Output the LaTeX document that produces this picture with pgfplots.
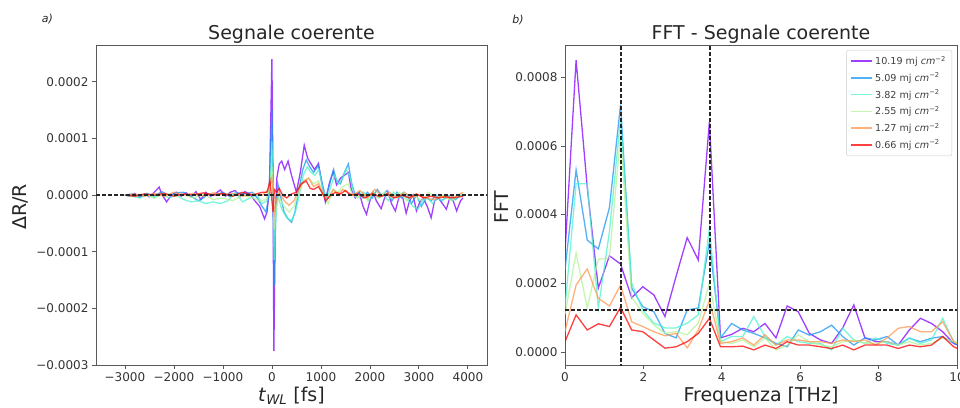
\documentclass[border=0pt]{standalone}
\usepackage{fontspec}
\setmainfont{DejaVu Sans}
\usepackage{pgfplots}
\pgfplotsset{compat=1.18}
\usepackage{pgfplotstable}

\definecolor{cP}{rgb}{0.5,0,1}
\definecolor{cB}{rgb}{0.1,0.588,0.951}
\definecolor{cC}{rgb}{0.3,0.951,0.809}
\definecolor{cG}{rgb}{0.7,0.951,0.588}
\definecolor{cO}{rgb}{1,0.588,0.309}
\definecolor{cR}{rgb}{1,0,0}

% FFT data (values in units of 1e-4)
\pgfplotstableread{
f P B C G O R
0.000 2.9 2.4 1.3 1.1 0.6 0.3
0.283 8.5 5.3 4.9 2.88 1.95 1.08
0.567 4.8 3.26 4.9 1.28 2.42 0.64
0.850 1.86 3.0 1.28 2.7 1.56 0.82
1.133 2.8 4.2 3.5 2.74 1.34 0.74
1.417 2.56 7.2 6.8 6.3 1.95 1.30
1.700 1.58 1.86 2.0 1.6 0.88 0.64
1.983 1.9 1.32 1.22 1.13 0.74 0.59
2.267 1.66 1.17 0.84 0.79 0.59 0.35
2.550 1.03 0.54 0.7 0.54 0.47 0.11
2.833 2.2 0.41 0.7 0.59 0.54 0.15
3.117 3.33 1.22 0.84 0.5 0.12 0.30
3.400 2.68 1.28 1.08 0.84 0.64 0.54
3.683 6.7 3.2 3.6 2.0 1.5 0.98
3.967 0.41 0.41 0.3 0.3 0.25 0.15
4.250 0.51 0.83 0.45 0.25 0.3 0.15
4.533 0.69 0.64 0.45 0.35 0.41 0.17
4.817 0.59 0.54 1.03 0.15 0.2 0.06
5.100 0.83 0.41 0.45 0.41 0.5 0.2
5.383 0.41 0.25 0.2 0.06 0.2 0.1
5.667 1.34 0.15 0.45 0.2 0.35 0.3
5.950 1.17 0.64 0.3 0.5 0.35 0.2
6.233 0.54 0.49 0.25 0.3 0.3 0.2
6.517 0.35 0.59 0.25 0.2 0.3 0.15
6.800 0.25 0.78 0.06 0.15 0.25 0.1
7.083 0.7 0.45 0.69 0.3 0.35 0.2
7.367 1.37 0.2 0.35 0.35 0.3 0.06
7.650 0.41 0.41 0.25 0.25 0.35 0.2
7.933 0.3 0.35 0.41 0.25 0.2 0.2
8.217 0.3 0.45 0.25 0.3 0.41 0.2
8.500 0.2 0.2 0.2 0.2 0.69 0.1
8.783 0.64 0.4 0.41 0.3 0.74 0.2
9.067 0.98 0.3 0.25 0.2 0.59 0.15
9.350 0.83 0.4 0.35 0.25 0.59 0.2
9.633 0.59 0.45 0.98 0.41 0.88 0.45
9.917 0.25 0.25 0.3 0.3 0.3 0.15
10.200 0.1 0.15 0.2 0.2 0.1 0.0
}\fftdata

% time-domain data (values in units of 1e-4)
\pgfplotstableread{
t v
-3000 0.0
-2900 -0.02
-2800 0.03
-2700 -0.04
-2600 0.02
-2500 -0.03
-2400 0.05
-2300 0.14
-2250 0.02
-2150 -0.12
-2050 0.0
-1950 0.05
-1850 -0.02
-1750 0.04
-1650 -0.03
-1550 0.06
-1450 -0.08
-1350 0.05
-1250 -0.02
-1150 0.03
-1050 0.09
-950 -0.02
-850 0.05
-750 0.08
-650 -0.03
-550 0.06
-450 0.02
-350 -0.1
-250 -0.2
-150 -0.42
-100 -0.3
-50 0.1
0 2.4
20 0.5
40 -2.75
70 -0.4
100 0.3
150 0.55
200 0.6
260 0.45
330 0.6
400 0.35
500 0.05
580 0.4
660 0.88
730 0.65
800 0.55
870 0.45
950 0.56
1020 0.2
1090 -0.12
1170 0.2
1250 0.42
1320 0.18
1400 0.3
1480 0.35
1560 0.4
1620 0.1
1700 -0.05
1780 0.05
1860 -0.2
1930 -0.34
2000 -0.1
2070 0.05
2130 -0.1
2230 -0.24
2300 -0.05
2370 0.05
2440 -0.15
2520 -0.28
2590 -0.05
2660 0.0
2740 -0.32
2810 -0.1
2880 0.0
2950 -0.28
3020 -0.12
3090 -0.05
3170 -0.2
3250 -0.4
3320 -0.1
3400 -0.05
3480 -0.15
3560 -0.25
3630 -0.05
3700 -0.1
3770 -0.28
3850 -0.1
3900 -0.05
}\tP

\pgfplotstableread{
t v
-3000 0
-2850 0.02
-2700 -0.03
-2550 0.03
-2400 -0.02
-2250 0.06
-2100 0.0
-1950 0.04
-1800 0.05
-1650 -0.02
-1500 -0.1
-1400 -0.05
-1300 0.02
-1150 0.0
-1000 0.05
-850 -0.03
-700 0.04
-550 0.02
-400 0.05
-300 -0.05
-200 -0.2
-120 -0.3
-60 0.0
0 1.5
25 0.0
45 -1.6
80 -0.3
120 0.2
170 0.0
250 -0.3
330 -0.42
400 -0.48
470 -0.3
550 0.1
630 0.45
700 0.62
770 0.5
850 0.4
950 0.52
1030 0.2
1100 -0.05
1180 0.2
1260 0.45
1320 0.25
1400 0.2
1480 0.4
1560 0.55
1630 0.2
1700 0.0
1780 0.05
1860 -0.05
1950 0.05
2050 -0.05
2150 0.1
2250 -0.02
2350 0.08
2450 -0.1
2550 0.05
2650 -0.05
2750 0.02
2850 -0.15
2950 0.0
3050 -0.2
3150 -0.05
3250 -0.1
3350 0.0
3450 -0.1
3550 -0.05
3650 0.0
3750 -0.08
3850 0.0
3900 -0.02
}\tB

\pgfplotstableread{
t v
-3000 0
-2850 -0.02
-2700 -0.05
-2550 0.0
-2400 -0.05
-2250 0.02
-2100 -0.05
-1950 0.0
-1800 -0.08
-1650 -0.12
-1500 -0.1
-1350 -0.15
-1200 -0.12
-1050 -0.15
-900 -0.1
-750 0.05
-600 -0.12
-450 -0.05
-300 0.0
-200 -0.15
-100 -0.1
-30 0.2
0 0.95
25 0.0
45 -1.15
80 -0.4
120 0.0
200 -0.25
300 -0.4
400 -0.45
480 -0.3
560 0.0
640 0.35
720 0.5
800 0.4
880 0.35
960 0.45
1040 0.1
1120 -0.1
1200 0.15
1280 0.35
1360 0.2
1440 0.3
1520 0.45
1600 0.3
1680 0.0
1780 -0.05
1880 0.05
1980 -0.1
2080 0.05
2180 -0.05
2280 0.0
2380 -0.1
2480 0.05
2580 -0.05
2680 0.05
2780 -0.1
2880 -0.2
2980 -0.25
3080 -0.1
3180 -0.05
3280 -0.15
3380 -0.05
3480 -0.1
3580 0.0
3680 -0.1
3780 -0.05
3900 0.0
}\tC

\pgfplotstableread{
t v
-3000 0
-2800 -0.03
-2600 0.02
-2400 -0.05
-2200 0.03
-2000 -0.02
-1800 0.0
-1600 -0.05
-1400 0.02
-1200 -0.08
-1000 -0.05
-800 -0.1
-600 0.0
-400 -0.05
-250 -0.1
-120 -0.08
-40 0.15
0 0.5
25 0.0
45 -0.6
90 -0.2
150 -0.05
250 -0.2
350 -0.3
450 -0.2
550 0.05
650 0.25
750 0.3
850 0.2
950 0.25
1050 0.0
1150 -0.15
1250 0.1
1350 0.05
1450 0.15
1550 0.2
1650 0.0
1750 -0.05
1850 0.05
1950 -0.1
2050 0.05
2150 -0.05
2300 0.05
2450 -0.05
2600 0.05
2750 -0.1
2900 0.0
3050 -0.1
3200 0.05
3350 -0.05
3500 0.0
3650 -0.1
3800 0.0
3900 0.02
}\tG

\pgfplotstableread{
t v
-3000 0
-2800 0.02
-2600 -0.02
-2400 0.03
-2200 -0.02
-2000 0.05
-1800 0.0
-1600 0.03
-1400 -0.02
-1200 0.04
-1000 0.0
-800 0.03
-600 -0.02
-400 0.02
-200 0.0
-60 0.1
0 0.3
25 0.0
45 -0.35
90 -0.1
150 0.05
250 -0.1
350 -0.18
450 -0.1
550 0.1
650 0.25
750 0.3
850 0.15
950 0.2
1050 0.0
1150 -0.05
1250 0.1
1350 0.0
1450 0.1
1550 0.05
1650 0.0
1800 0.08
1950 -0.05
2100 0.1
2250 -0.02
2400 0.05
2550 -0.05
2700 0.05
2850 -0.05
3000 0.0
3150 -0.05
3300 -0.08
3450 -0.02
3600 -0.05
3750 -0.02
3900 0.05
}\tO

\pgfplotstableread{
t v
-3000 0
-2800 -0.02
-2600 0.02
-2400 0.0
-2200 0.03
-2000 -0.02
-1800 0.02
-1600 0.0
-1400 0.04
-1200 0.0
-1000 0.03
-800 -0.02
-600 0.05
-400 0.0
-200 0.05
-100 0.05
-40 0.25
0 -0.1
25 -0.3
50 0.1
100 0.05
150 0.12
220 0.0
300 -0.05
400 0.02
500 0.05
600 0.2
700 0.25
780 0.12
850 0.1
950 0.15
1050 0.0
1100 -0.1
1200 0.0
1300 0.05
1400 0.02
1500 0.08
1600 0.0
1750 0.02
1900 -0.05
2050 0.03
2200 -0.03
2350 0.02
2500 -0.05
2650 0.0
2800 -0.05
2950 0.02
3100 -0.05
3250 -0.02
3400 -0.05
3550 -0.03
3700 -0.05
3900 -0.02
}\tR

\pgfplotsset{
  mpl/.style={
    scale only axis,
    axis line style={black!65, line width=0.8pt},
    tick align=outside,
    tick pos=left,
    major tick length=4pt,
    tick style={black!65, line width=0.8pt},
    ticklabel style={font=\fontsize{12}{14}\selectfont, text=black!80},
  },
  ser/.style={#1, line width=1.3pt, opacity=0.75},
  dsh/.style={black!85, line width=1.2pt, dash pattern=on 4pt off 2pt, forget plot},
}

\begin{document}
\begin{tikzpicture}
\path[use as bounding box] (0,0) rectangle (960pt,407pt);

% ---------- left axis ----------
\begin{axis}[mpl,
  at={(96pt,42pt)}, anchor=south west,
  width=391pt, height=320pt,
  xmin=-3590, xmax=4390, ymin=-3, ymax=2.65,
  xtick={-3000,-2000,-1000,0,1000,2000,3000,4000},
  xticklabels={−3000,−2000,−1000,0,1000,2000,3000,4000},
  ytick={-3,-2,-1,0,1,2},
  yticklabels={−0.0003,−0.0002,−0.0001,0.0000,0.0001,0.0002},
]
\addplot[ser=cP] table[x=t,y=v]{\tP};
\addplot[ser=cB] table[x=t,y=v]{\tB};
\addplot[ser=cC] table[x=t,y=v]{\tC};
\addplot[ser=cG] table[x=t,y=v]{\tG};
\addplot[ser=cO] table[x=t,y=v]{\tO};
\addplot[ser=cR] table[x=t,y=v]{\tR};
\addplot[dsh] coordinates {(-3590,0) (4390,0)};
\end{axis}

% ---------- right axis ----------
\begin{axis}[mpl,
  at={(565pt,42pt)}, anchor=south west,
  width=392pt, height=320pt,
  xmin=0, xmax=10, ymin=-0.38, ymax=8.94,
  xtick={0,2,4,6,8,10},
  xticklabels={0,2,4,6,8,10},
  ytick={0,2,4,6,8},
  yticklabels={0.0000,0.0002,0.0004,0.0006,0.0008},
  legend style={at={(1,1)}, anchor=north east, xshift=-5pt, yshift=-5pt,
    draw=black!20, fill=white, rounded corners=2pt,
    font=\fontsize{9.6}{11}\selectfont, row sep=2.6pt,
    inner xsep=4pt, inner ysep=4pt, text=black!75},
  legend cell align=left,
  legend image code/.code={\draw[#1, line width=1.6pt] (0pt,0pt) -- (21pt,0pt);},
]
\addplot[ser=cP] table[x=f,y=P]{\fftdata};
\addlegendentry{10.19 mj \textit{cm}\textsuperscript{−2}}
\addplot[ser=cB] table[x=f,y=B]{\fftdata};
\addlegendentry{5.09 mj \textit{cm}\textsuperscript{−2}}
\addplot[ser=cC] table[x=f,y=C]{\fftdata};
\addlegendentry{3.82 mj \textit{cm}\textsuperscript{−2}}
\addplot[ser=cG] table[x=f,y=G]{\fftdata};
\addlegendentry{2.55 mj \textit{cm}\textsuperscript{−2}}
\addplot[ser=cO] table[x=f,y=O]{\fftdata};
\addlegendentry{1.27 mj \textit{cm}\textsuperscript{−2}}
\addplot[ser=cR] table[x=f,y=R]{\fftdata};
\addlegendentry{0.66 mj \textit{cm}\textsuperscript{−2}}
\addplot[dsh] coordinates {(1.43,-1) (1.43,10)};
\addplot[dsh] coordinates {(3.70,-1) (3.70,10)};
\addplot[dsh] coordinates {(0,1.22) (10,1.22)};
\end{axis}

% ---------- titles and labels ----------
\node[anchor=base, font=\fontsize{19}{22}\selectfont, text=black!85] at (291.5pt,367pt) {Segnale coerente};
\node[anchor=base, font=\fontsize{19}{22}\selectfont, text=black!85] at (761pt,367pt) {FFT - Segnale coerente};
\node[anchor=base, font=\fontsize{19}{22}\selectfont, text=black!85] at (291.5pt,6pt) {\textit{t}\textsubscript{\textit{WL}} [fs]};
\node[anchor=base, font=\fontsize{19}{22}\selectfont, text=black!85] at (761pt,6pt) {Frequenza [THz]};
\node[rotate=90, anchor=center, font=\fontsize{19}{22}\selectfont, text=black!85] at (20pt,200pt) {ΔR/R};
\node[rotate=90, anchor=center, font=\fontsize{19}{22}\selectfont, text=black!85] at (502pt,200pt) {FFT};
\node[anchor=center, font=\fontsize{11}{13}\selectfont\itshape, text=black!85] at (47.5pt,388pt) {a)};
\node[anchor=center, font=\fontsize{11}{13}\selectfont\itshape, text=black!85] at (518pt,387pt) {b)};
\end{tikzpicture}
\end{document}
